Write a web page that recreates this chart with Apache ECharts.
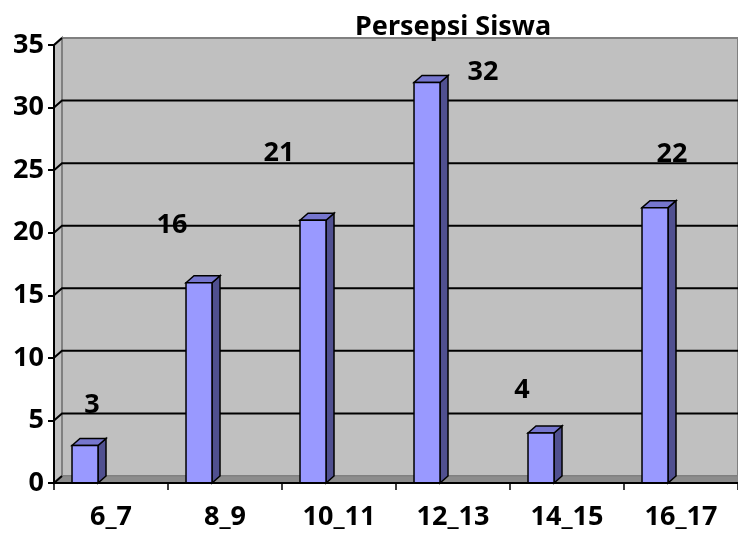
<!DOCTYPE html>
<html>
<head>
<meta charset="utf-8">
<script src="https://cdn.jsdelivr.net/npm/echarts@6/dist/echarts.min.js"></script>
<style>
  html, body { margin: 0; padding: 0; background: #fff; }
  #chart { width: 738px; height: 535px; }
</style>
</head>
<body>
<div id="chart"></div>
<script>
// data
const categories = ["6_7", "8_9", "10_11", "12_13", "14_15", "16_17"];
const values = [3, 16, 21, 32, 4, 22];
const yTicks = [0, 5, 10, 15, 20, 25, 30, 35];

// where excel dropped each value label, relative to the bar top (px)
const labelShift = [[7, -40], [-27, -57], [-34, -67], [56, -10], [-19, -43], [17, -53]];

const DX = 8, DY = 7;  // 3d depth
const font = '"Noto Sans", sans-serif';
const FS = 27;

function wallItem(params, api) {
    const cs = params.coordSys;
    const x = cs.x, y = cs.y, w = cs.width, h = cs.height;
    return {
        type: "group",
        children: [
            { type: "rect", shape: { x: x + DX, y: y - DY, width: w - DX, height: h },
              style: { fill: "#C0C0C0", stroke: "#808080", lineWidth: 2 } },
            { type: "polygon", shape: { points: [[x, y], [x + DX, y - DY], [x + DX, y + h - DY], [x, y + h]] },
              style: { fill: "#C0C0C0", stroke: "#808080", lineWidth: 2 } },
            { type: "polygon", shape: { points: [[x, y + h], [x + DX, y + h - DY], [x + w, y + h - DY], [x + w, y + h]] },
              style: { fill: "#8C8C8C", stroke: "#808080", lineWidth: 1 } }
        ]
    };
}

function gridItem(params, api) {
    const cs = params.coordSys;
    const v = api.value(1);
    const p = api.coord([0, v]);
    const edge = v === yTicks[0] || v === yTicks[yTicks.length - 1];
    return {
        type: "polyline",
        shape: { points: [[cs.x, p[1]], [cs.x + DX, p[1] - DY], [edge ? cs.x + DX : cs.x + cs.width, p[1] - DY]] },
        style: { stroke: "#000", lineWidth: 2, fill: null }
    };
}

function barItem(params, api) {
    const i = params.dataIndex;
    const base = api.coord([api.value(0), 0]);
    const top = api.coord([api.value(0), api.value(1)]);
    const band = api.size([1, 0])[0];
    const left = base[0] - band / 2 + band * 0.158;
    const right = left + band * 0.228;
    const y0 = base[1], y1 = top[1];
    const sh = labelShift[i];
    return {
        type: "group",
        children: [
            { type: "polygon", shape: { points: [[right, y1], [right + DX, y1 - DY], [right + DX, y0 - DY], [right, y0]] },
              style: { fill: "#505090", stroke: "#000", lineWidth: 1.5 } },
            { type: "polygon", shape: { points: [[left, y1], [left + DX, y1 - DY], [right + DX, y1 - DY], [right, y1]] },
              style: { fill: "#7676CE", stroke: "#000", lineWidth: 1.5 } },
            { type: "rect", shape: { x: left, y: y1, width: right - left, height: y0 - y1 },
              style: { fill: "#9999FF", stroke: "#000", lineWidth: 1.5 } },
            { type: "text", x: (left + right) / 2 + sh[0], y: y1 + sh[1],
              style: { text: String(api.value(1)), fill: "#000", font: "bold " + FS + "px " + font,
                       textAlign: "center", textVerticalAlign: "middle" } }
        ]
    };
}

const chart = echarts.init(document.getElementById("chart"), null, { renderer: "canvas" });
chart.setOption({
    animation: false,
    backgroundColor: "#fff",
    title: {
        text: "Persepsi Siswa",
        left: 350, top: 9,
        textStyle: { fontFamily: font, fontWeight: "bold", fontSize: FS, color: "#000" }
    },
    grid: { left: 54, right: 0, top: 45, bottom: 52, containLabel: false },
    xAxis: {
        type: "category",
        data: categories,
        z: 10,
        axisLine: { show: true, lineStyle: { color: "#000", width: 2 } },
        axisTick: { show: true, length: 7, interval: 0, lineStyle: { color: "#000", width: 1.5 } },
        axisLabel: { margin: 21, color: "#000", fontFamily: font, fontWeight: "bold", fontSize: FS, interval: 0 },
        splitLine: { show: false }
    },
    yAxis: {
        type: "value",
        min: 0, max: yTicks[yTicks.length - 1], interval: 5,
        z: 10,
        axisLine: { show: true, lineStyle: { color: "#000", width: 2 } },
        axisTick: { show: true, length: 6, lineStyle: { color: "#000", width: 2 } },
        axisLabel: { margin: 10, color: "#000", fontFamily: font, fontWeight: "bold", fontSize: FS },
        splitLine: { show: false }
    },
    series: [
        { type: "custom", z: 1, silent: true, renderItem: wallItem, data: [[0, 0]] },
        { type: "custom", z: 2, silent: true, renderItem: gridItem, data: yTicks.map(v => [0, v]) },
        { type: "custom", z: 3, renderItem: barItem, data: values.map((v, i) => [i, v]) }
    ]
});
window.addEventListener("resize", () => chart.resize());
</script>
</body>
</html>
